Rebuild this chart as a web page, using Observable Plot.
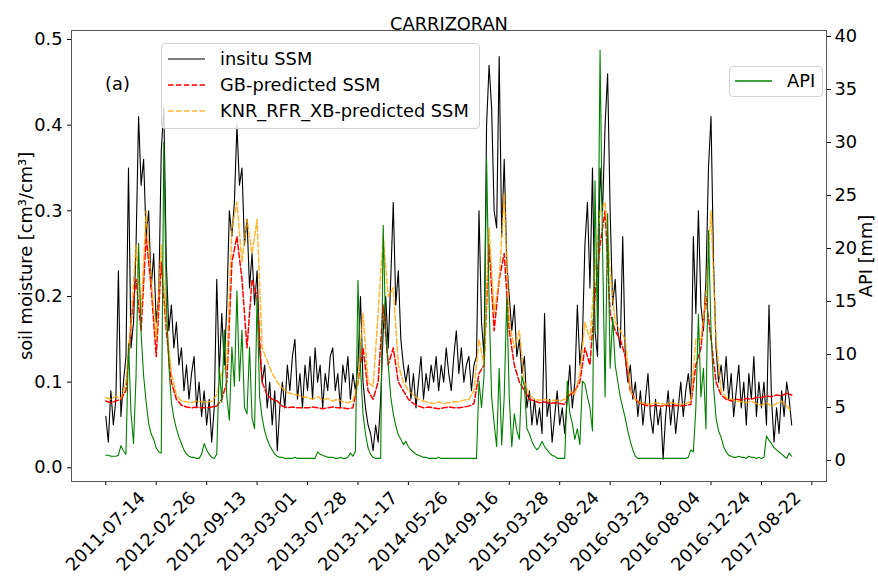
<!DOCTYPE html>
<html><head><meta charset="utf-8">
<script src="https://cdn.jsdelivr.net/npm/d3@7"></script>
<script src="https://cdn.jsdelivr.net/npm/@observablehq/plot@0.6"></script>
<style>
body{margin:0;background:#fff;}
#wrap{position:relative;width:878px;height:577px;font-family:"DejaVu Sans",sans-serif;}
.leg{position:absolute;background:rgba(255,255,255,0.8);border:1px solid #d4d4d4;border-radius:4px;box-sizing:border-box;}
.row{position:absolute;left:0;height:26px;font-size:17.8px;color:#000;white-space:nowrap;}
.row svg{position:absolute;top:0;}
.row span{position:absolute;top:2px;line-height:22px;}
</style></head><body><div id="wrap"></div>
<script>
// ---- data (x = sample index; step 5 for insitu/API, step 10 for predictions) ----
const xTickLabels = ["2011-07-14","2012-02-26","2012-09-13","2013-03-01","2013-07-28","2013-11-17","2014-05-26","2014-09-16","2015-03-28","2015-08-24","2016-03-23","2016-08-04","2016-12-24","2017-08-22"];
const xTicks = [0,100,200,300,400,500,600,700,800,900,1000,1100,1200,1300,1400];
const soilTicks = [0,0.1,0.2,0.3,0.4,0.5];
const apiTicks = [0,5,10,15,20,25,30,35,40];

const insitu = [
0.06,0.03,0.09,0.05,0.08,0.23,0.06,0.10,0.13,0.35,
0.14,0.17,0.26,0.41,0.33,0.36,0.27,0.30,0.21,0.25,
0.17,0.20,0.37,0.42,0.24,0.16,0.19,0.14,0.17,0.12,
0.14,0.09,0.12,0.08,0.11,0.13,0.07,0.10,0.06,0.09,
0.05,0.08,0.03,0.07,0.22,0.11,0.18,0.12,0.19,0.30,
0.27,0.31,0.40,0.33,0.35,0.26,0.29,0.21,0.25,0.19,
0.23,0.14,0.10,0.12,0.07,0.10,0.05,0.09,0.02,0.07,
0.10,0.07,0.12,0.09,0.13,0.15,0.08,0.11,0.07,0.12,
0.09,0.13,0.08,0.14,0.10,0.12,0.07,0.11,0.09,0.13,
0.14,0.09,0.11,0.07,0.12,0.10,0.13,0.08,0.11,0.09,
0.12,0.20,0.10,0.07,0.05,0.04,0.02,0.05,0.03,0.08,
0.16,0.20,0.14,0.22,0.31,0.19,0.23,0.15,0.12,0.10,
0.12,0.08,0.11,0.07,0.10,0.13,0.08,0.11,0.09,0.12,
0.10,0.13,0.09,0.12,0.10,0.14,0.11,0.09,0.13,0.16,
0.11,0.14,0.10,0.12,0.13,0.09,0.12,0.13,0.30,0.17,
0.13,0.40,0.47,0.42,0.30,0.28,0.48,0.27,0.36,0.24,
0.20,0.16,0.19,0.13,0.15,0.11,0.13,0.07,0.09,0.05,
0.08,0.05,0.07,0.04,0.18,0.06,0.08,0.03,0.06,0.09,
0.05,0.07,0.04,0.08,0.12,0.07,0.10,0.19,0.12,0.15,
0.26,0.31,0.21,0.35,0.16,0.13,0.35,0.30,0.40,0.46,
0.30,0.19,0.22,0.16,0.14,0.27,0.13,0.10,0.12,0.08,
0.10,0.06,0.09,0.05,0.08,0.11,0.06,0.04,0.08,0.05,
0.07,0.01,0.06,0.09,0.05,0.08,0.04,0.07,0.10,0.06,
0.09,0.11,0.08,0.27,0.18,0.30,0.19,0.16,0.22,0.35,
0.41,0.24,0.14,0.10,0.12,0.09,0.13,0.08,0.11,0.06,
0.09,0.12,0.07,0.10,0.05,0.11,0.08,0.13,0.06,0.10,
0.07,0.10,0.05,0.19,0.08,0.03,0.07,0.04,0.09,0.06,
0.10,0.08,0.05];

const api = [
0.5,0.5,0.4,0.4,0.4,0.5,1.4,0.9,0.6,11.0,
4.5,1.6,8.0,20.5,12.0,8.0,5.5,3.5,2.5,2.0,
1.2,0.8,0.7,30.0,15.0,9.0,5.5,4.0,3.0,2.2,
1.6,1.0,0.6,0.4,0.3,0.3,0.2,0.2,0.6,1.6,
1.0,0.6,0.3,0.2,0.6,8.8,5.5,12.3,6.0,3.8,
10.7,7.0,16.0,7.5,12.3,5.0,4.4,10.7,4.0,3.0,
15.4,6.0,4.0,2.8,2.0,1.4,1.0,0.6,0.4,0.3,
0.3,0.2,0.2,0.2,0.2,0.3,0.2,0.2,0.2,0.2,
0.2,0.2,0.2,0.2,0.8,0.6,0.5,0.4,0.3,0.3,
0.3,0.2,0.2,0.3,0.2,0.2,0.3,0.7,0.4,0.9,
17.0,8.7,4.4,2.5,1.2,0.6,0.3,0.2,0.2,0.2,
22.2,12.3,9.0,6.0,4.4,3.3,2.4,2.0,1.5,1.8,
1.3,1.0,0.8,0.6,0.5,0.4,0.3,0.3,0.2,0.2,
0.2,0.2,0.3,0.2,0.2,0.2,0.2,0.2,0.2,0.2,
0.2,0.2,0.2,0.2,0.2,0.2,0.2,0.2,7.5,5.0,
8.0,28.5,15.0,6.0,3.5,1.3,8.7,1.5,6.0,15.4,
6.0,1.3,4.4,2.8,2.0,8.0,7.0,3.0,2.5,1.8,
1.3,1.0,1.3,1.8,1.3,1.0,0.7,0.5,0.4,0.2,
0.2,0.2,0.2,7.5,4.5,3.5,2.0,3.0,1.5,7.5,
7.2,6.0,5.0,2.8,26.4,12.0,38.7,20.0,6.0,23.3,
8.7,13.5,9.0,7.5,6.0,5.0,4.0,2.8,1.8,1.0,
0.4,0.2,0.2,0.2,0.2,0.2,0.2,0.2,0.2,0.2,
0.2,0.2,0.2,0.2,0.2,0.2,0.2,0.2,0.2,0.2,
0.2,0.3,1.0,0.8,5.0,13.8,6.0,8.7,3.0,21.7,
12.3,7.0,4.0,2.8,2.2,1.3,0.8,0.5,0.4,0.3,
0.3,0.4,0.3,0.3,0.2,0.4,0.3,0.3,0.2,0.3,
0.2,0.3,2.3,1.9,1.6,1.2,1.0,0.8,0.6,0.4,
0.2,0.7,0.4];

const gb = [
0.078,0.076,0.078,0.080,0.090,0.17,0.22,0.16,0.27,0.21,
0.13,0.24,0.16,0.10,0.08,0.073,0.071,0.070,0.071,0.070,
0.070,0.071,0.072,0.080,0.10,0.24,0.27,0.22,0.14,0.22,
0.20,0.10,0.085,0.080,0.078,0.072,0.070,0.071,0.070,0.070,
0.070,0.071,0.070,0.069,0.070,0.071,0.070,0.070,0.069,0.070,
0.10,0.14,0.09,0.08,0.10,0.19,0.12,0.14,0.10,0.09,
0.080,0.075,0.072,0.070,0.071,0.070,0.069,0.070,0.071,0.070,
0.070,0.071,0.072,0.075,0.11,0.12,0.26,0.16,0.22,0.25,
0.16,0.12,0.10,0.09,0.08,0.078,0.076,0.077,0.075,0.076,
0.075,0.074,0.085,0.09,0.10,0.14,0.12,0.20,0.26,0.30,
0.18,0.16,0.15,0.13,0.09,0.08,0.075,0.073,0.072,0.073,
0.072,0.073,0.072,0.073,0.072,0.073,0.074,0.12,0.14,0.20,
0.15,0.10,0.085,0.080,0.078,0.080,0.079,0.081,0.080,0.082,
0.082,0.084,0.083,0.085,0.084,0.087,0.085];

const knr = [
0.082,0.080,0.083,0.081,0.10,0.17,0.26,0.18,0.30,0.22,
0.15,0.26,0.17,0.11,0.085,0.078,0.077,0.076,0.078,0.077,
0.076,0.078,0.085,0.11,0.12,0.28,0.31,0.24,0.29,0.25,
0.29,0.14,0.125,0.11,0.10,0.093,0.088,0.086,0.085,0.083,
0.082,0.080,0.083,0.079,0.081,0.078,0.080,0.077,0.076,0.078,
0.10,0.18,0.10,0.095,0.18,0.27,0.20,0.21,0.12,0.10,
0.09,0.085,0.080,0.078,0.076,0.075,0.077,0.075,0.076,0.077,
0.077,0.079,0.080,0.090,0.15,0.12,0.28,0.18,0.22,0.32,
0.17,0.14,0.16,0.10,0.085,0.080,0.079,0.080,0.078,0.079,
0.078,0.080,0.09,0.085,0.11,0.17,0.15,0.23,0.30,0.31,
0.23,0.17,0.16,0.15,0.09,0.08,0.076,0.075,0.074,0.076,
0.075,0.074,0.076,0.075,0.074,0.075,0.077,0.15,0.15,0.20,
0.30,0.15,0.09,0.082,0.080,0.078,0.077,0.076,0.078,0.075,
0.073,0.076,0.072,0.075,0.078,0.072,0.066];

const idx5 = insitu.map((_, i) => i * 5);
const idx10 = gb.map((_, i) => i * 10);

// ---- scales ----
const soilDomain = [-0.016, 0.5105];
const apiDomain = [-1.98, 40.57];
const k = (soilDomain[1] - soilDomain[0]) / (apiDomain[1] - apiDomain[0]);
const toSoil = a => soilDomain[0] + (a - apiDomain[0]) * k;
const fromSoil = s => apiDomain[0] + (s - soilDomain[0]) / k;

const FS = 17.8;
const chart = Plot.plot({
  width: 878, height: 577,
  marginLeft: 71, marginRight: 52, marginTop: 30, marginBottom: 96,
  x: {domain: [-68, 1429]},
  y: {domain: soilDomain},
  style: {fontFamily: "DejaVu Sans", fontSize: FS + "px", background: "white", color: "black", overflow: "visible"},
  marks: [
    Plot.axisY(soilTicks, {anchor: "left", tickFormat: d3.format(".1f"), tickSize: 4, tickPadding: 5, label: null, fontSize: FS}),
    Plot.axisY(apiTicks.map(toSoil), {anchor: "right", tickFormat: d => String(Math.round(fromSoil(d))), tickSize: 4, tickPadding: 4, label: null, fontSize: FS}),
    Plot.axisX(xTicks, {tickFormat: () => "", tickSize: 4, label: null}),
    Plot.text(xTickLabels, {x: (d, i) => xTicks[i], text: d => d, frameAnchor: "bottom", dy: 50, rotate: -45, textAnchor: "middle", lineAnchor: "middle", fontSize: FS}),
    Plot.line(insitu, {x: idx5, y: insitu, stroke: "black", strokeWidth: 1.1}),
    Plot.line(gb, {x: idx10, y: gb, stroke: "red", strokeWidth: 1.5, strokeDasharray: "5.5,2.4"}),
    Plot.line(knr, {x: idx10, y: knr, stroke: "orange", strokeOpacity: 0.8, strokeWidth: 1.5, strokeDasharray: "5.5,2.4"}),
    Plot.line(api, {x: idx5, y: api.map(toSoil), stroke: "green", strokeWidth: 1.1}),
    Plot.frame({stroke: "#555"}),
    Plot.text(["CARRIZORAN"], {frameAnchor: "top", dy: -13, fontSize: FS}),
    Plot.text(["(a)"], {frameAnchor: "top-left", dx: 46, dy: 47, textAnchor: "middle", fontSize: FS}),
    Plot.text(["soil moisture [cm³/cm³]"], {frameAnchor: "left", dx: -45, rotate: -90, textAnchor: "middle", fontSize: FS}),
    Plot.text(["API [mm]"], {frameAnchor: "right", dx: 40, rotate: -90, textAnchor: "middle", fontSize: FS})
  ]
});
const wrap = document.getElementById("wrap");
wrap.appendChild(chart);

// ---- legends ----
function legend(box, items) {
  const div = document.createElement("div");
  div.className = "leg";
  Object.assign(div.style, {left: box[0] + "px", top: box[1] + "px", width: box[2] + "px", height: box[3] + "px"});
  items.forEach((it, i) => {
    const row = document.createElement("div");
    row.className = "row";
    row.style.top = (box[4] + i * 26 - 13) + "px";
    row.style.width = box[2] + "px";
    row.innerHTML = `<svg width="40" height="26" style="left:${box[5]}px"><line x1="0" x2="37" y1="13" y2="13" stroke="${it.color}" stroke-width="${it.w}" ${it.dash ? `stroke-dasharray="${it.dash}"` : ""} stroke-opacity="${it.op || 1}"/></svg><span style="left:${box[6]}px">${it.name}</span>`;
    div.appendChild(row);
  });
  wrap.appendChild(div);
}
legend([161, 43, 319, 86, 15, 6, 58], [
  {name: "insitu SSM", color: "black", w: 1.1},
  {name: "GB-predicted SSM", color: "red", w: 1.5, dash: "5.5,2.4"},
  {name: "KNR_RFR_XB-predicted SSM", color: "orange", w: 1.5, dash: "5.5,2.4", op: 0.8}
]);
legend([729, 66, 94, 31, 14, 5, 57], [
  {name: "API", color: "green", w: 1.5}
]);
</script></body></html>
